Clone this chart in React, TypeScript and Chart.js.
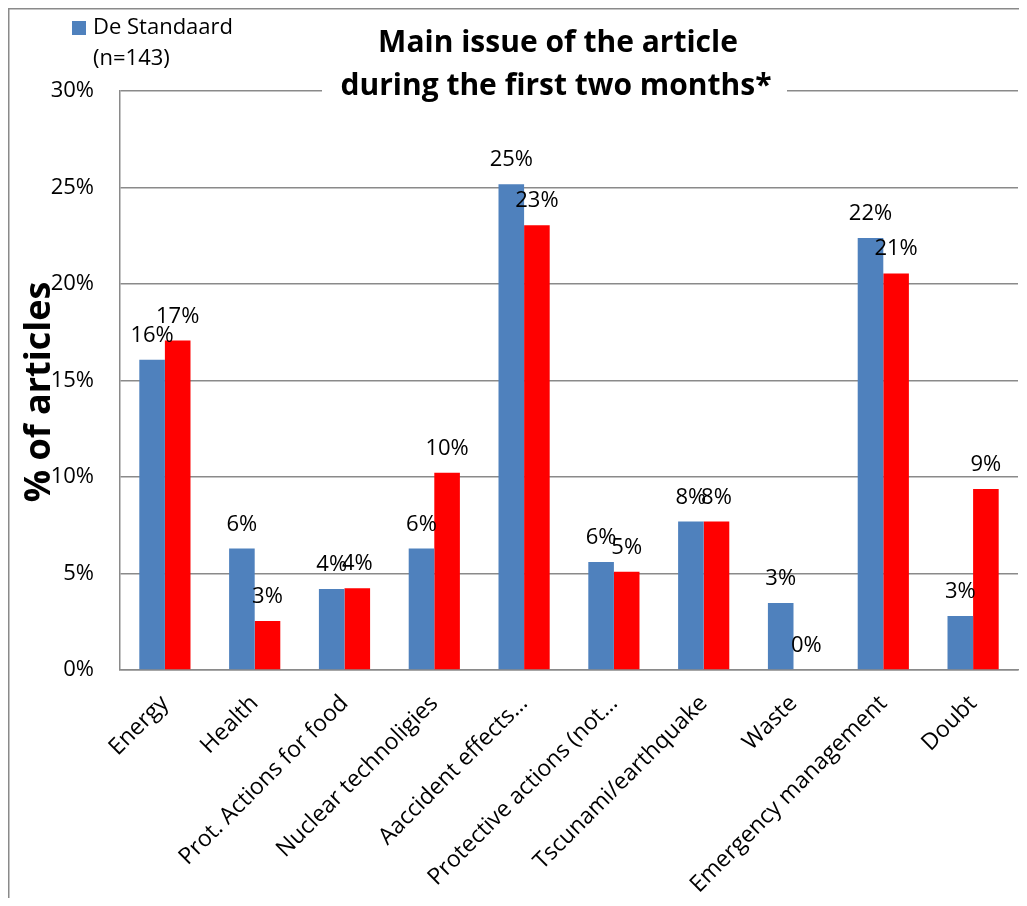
import React, { useEffect, useRef } from "react";
import { Chart, registerables } from "chart.js";

Chart.register(...registerables);

const categories = [
  "Energy",
  "Health",
  "Prot. Actions for food",
  "Nuclear technoligies",
  "Aaccident effects…",
  "Protective actions (not…",
  "Tscunami/earthquake",
  "Waste",
  "Emergency management",
  "Doubt",
];
const deStandaard = [16.08, 6.29, 4.2, 6.29, 25.17, 5.59, 7.69, 3.47, 22.38, 2.8];
const secondSeries = [17.07, 2.54, 4.23, 10.22, 23.04, 5.09, 7.69, 0, 20.55, 9.38];
const yTicks = [0, 5, 10, 15, 20, 25, 30];
const legendLines = ["De Standaard", "(n=143)"];
const titleLines = ["Main issue of the article", "during the first two months*"];
const yTitle = "% of articles";

const FONT = '"Open Sans", "DejaVu Sans", sans-serif';
const BLUE = "#4F81BD";
const RED = "#FF0000";
const GRID = "#8a8a8a";

const W = 1014;
const H = 890;

const decorPlugin = {
  id: "decor",
  afterDatasetsDraw(chart: any) {
    const ctx = chart.ctx;
    ctx.save();
    ctx.fillStyle = "#000";
    ctx.font = `22px ${FONT}`;
    ctx.textAlign = "center";
    ctx.textBaseline = "alphabetic";
    chart.data.datasets.forEach((ds: any, di: number) => {
      const meta = chart.getDatasetMeta(di);
      meta.data.forEach((bar: any, i: number) => {
        const v = ds.data[i];
        ctx.fillText(Math.round(v) + "%", bar.x, bar.y - 18);
      });
    });
    ctx.restore();
  },
  afterDraw(chart: any) {
    const ctx = chart.ctx;
    ctx.save();
    // outer frame
    ctx.strokeStyle = GRID;
    ctx.lineWidth = 1.5;
    ctx.beginPath();
    ctx.moveTo(0.75, H);
    ctx.lineTo(0.75, 0.75);
    ctx.lineTo(W - 0.75, 0.75);
    ctx.lineTo(W - 0.75, H);
    ctx.stroke();

    // title box
    ctx.fillStyle = "#fff";
    ctx.fillRect(314, 14, 465, 77);
    ctx.fillStyle = "#000";
    ctx.font = `bold 30px ${FONT}`;
    ctx.textAlign = "center";
    ctx.textBaseline = "middle";
    ctx.fillText(titleLines[0], 550, 35);
    ctx.fillText(titleLines[1], 548, 78);

    // legend
    ctx.fillStyle = BLUE;
    ctx.fillRect(64, 13, 14, 14);
    ctx.fillStyle = "#000";
    ctx.font = `22px ${FONT}`;
    ctx.textAlign = "left";
    ctx.fillText(legendLines[0], 85, 20);
    ctx.fillText(legendLines[1], 85, 51);

    // y title
    ctx.translate(32, 384);
    ctx.rotate(-Math.PI / 2);
    ctx.font = `bold 36px ${FONT}`;
    ctx.textAlign = "center";
    ctx.textBaseline = "middle";
    ctx.fillText(yTitle, 0, 0);
    ctx.restore();
  },
};

export default function App() {
  const ref = useRef<HTMLCanvasElement>(null);
  useEffect(() => {
    if (!ref.current) return;
    const chart = new Chart(ref.current, {
      type: "bar",
      data: {
        labels: categories,
        datasets: [
          { label: "De Standaard (n=143)", data: deStandaard, backgroundColor: BLUE },
          { label: "Other", data: secondSeries, backgroundColor: RED },
        ],
      },
      options: {
        animation: false,
        responsive: false,
        maintainAspectRatio: false,
        layout: { padding: { top: 83, right: 4, left: 0, bottom: 0 } },
        plugins: { legend: { display: false }, title: { display: false }, tooltip: { enabled: false } },
        datasets: { bar: { categoryPercentage: 0.57, barPercentage: 1 } },
        scales: {
          x: {
            grid: { display: false },
            border: { display: true, color: GRID, width: 1.5 },
            ticks: {
              color: "#000",
              font: { family: FONT, size: 23 },
              maxRotation: 45,
              minRotation: 45,
              autoSkip: false,
              padding: 12,
            },
            afterFit: (s: any) => {
              s.height = 228;
            },
          },
          y: {
            min: 0,
            max: 30,
            afterBuildTicks: (s: any) => {
              s.ticks = yTicks.map((v) => ({ value: v }));
            },
            grid: { color: GRID, lineWidth: 1.5, drawTicks: false },
            border: { display: true, color: GRID, width: 1.5 },
            ticks: {
              color: "#000",
              font: { family: FONT, size: 22 },
              padding: 26,
              callback: (v: any) => v + "%",
            },
            afterFit: (s: any) => {
              s.width = 112;
            },
          },
        },
      },
      plugins: [decorPlugin],
    });
    return () => chart.destroy();
  }, []);
  return (
    <div style={{ width: W, height: H }}>
      <canvas ref={ref} width={W} height={H} style={{ display: "block", width: W, height: H }} />
    </div>
  );
}
